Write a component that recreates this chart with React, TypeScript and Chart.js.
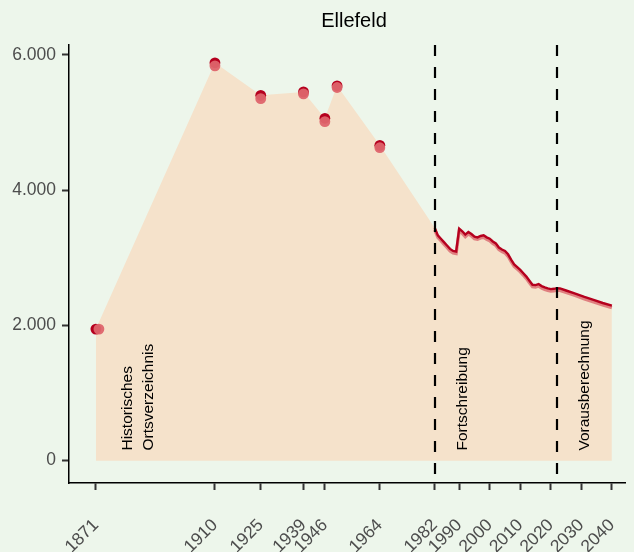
import React, { useEffect, useRef } from "react";
import { Chart, registerables } from "chart.js";

Chart.register(...registerables);

const TITLE = "Ellefeld";

// Historical census points (two overlapping sources)
const HIST_YEARS = [1871, 1910, 1925, 1939, 1946, 1950, 1964];
const HIST_DARK = [1945, 5880, 5400, 5450, 5060, 5540, 4660];
const HIST_LIGHT_YEARS = [1872, 1910, 1925, 1939, 1946, 1950, 1964];
const HIST_LIGHT = [1945, 5835, 5350, 5420, 5010, 5515, 4625];

// Continuous series (Fortschreibung + Vorausberechnung)
const LINE_YEARS = [
  1982, 1983, 1984, 1985, 1986, 1987, 1988, 1989, 1990, 1991, 1992, 1993, 1994,
  1995, 1996, 1997, 1998, 1999, 2000, 2001, 2002, 2003, 2004, 2005, 2006, 2007,
  2008, 2009, 2010, 2011, 2012, 2013, 2014, 2015, 2016, 2017, 2018, 2019, 2020,
  2021, 2022, 2023, 2025, 2028, 2031, 2034, 2037, 2040,
];
const LINE_DARK = [
  3440, 3330, 3280, 3230, 3180, 3130, 3100, 3090, 3430, 3390, 3340, 3380, 3350,
  3310, 3300, 3320, 3330, 3300, 3280, 3240, 3210, 3150, 3120, 3100, 3050, 2970,
  2900, 2860, 2820, 2770, 2720, 2660, 2600, 2595, 2610, 2580, 2560, 2545, 2535,
  2540, 2550, 2545, 2515, 2470, 2420, 2375, 2330, 2290,
];
const LINE_LIGHT = [
  3410, 3300, 3250, 3200, 3150, 3100, 3070, 3060, 3400, 3360, 3310, 3350, 3320,
  3280, 3270, 3290, 3300, 3270, 3250, 3210, 3180, 3120, 3090, 3070, 3020, 2940,
  2870, 2830, 2790, 2740, 2690, 2630, 2570, 2565, 2580, 2550, 2530, 2515, 2505,
  2510, 2520, 2515, 2485, 2440, 2390, 2345, 2300, 2260,
];

const X_TICKS = [1871, 1910, 1925, 1939, 1946, 1964, 1982, 1990, 2000, 2010, 2020, 2030, 2040];
const Y_TICKS = [0, 2000, 4000, 6000];
const PHASE_BREAKS = [1982, 2022];
const PHASE_LABELS = [
  { x: 1881.5, text: "Historisches" },
  { x: 1888.4, text: "Ortsverzeichnis" },
  { x: 1991.2, text: "Fortschreibung" },
  { x: 2031.2, text: "Vorausberechnung" },
];
const LABEL_Y = 150;

const BG = "#edf6eb";
const FILL = "#f5e2cb";
const DARK = "#b5001e";
const LIGHT = "rgba(222,100,108,0.95)";
const LIGHT_LINE = "rgba(220,110,115,0.85)";
const FONT = "'Liberation Sans', Arial, sans-serif";

function fmt(v: number): string {
  const s = String(Math.round(v));
  return s.replace(/\B(?=(\d{3})+(?!\d))/g, ".");
}

const overlayPlugin = {
  id: "overlay",
  beforeDraw(chart: any) {
    const ctx = chart.ctx;
    ctx.save();
    ctx.fillStyle = BG;
    ctx.fillRect(0, 0, chart.width, chart.height);
    ctx.fillStyle = "#000";
    ctx.font = `20px ${FONT}`;
    ctx.textAlign = "center";
    ctx.textBaseline = "middle";
    ctx.fillText(TITLE, 354, 21);
    ctx.restore();
  },
  afterDatasetsDraw(chart: any) {
    const ctx = chart.ctx;
    const xs = chart.scales.x;
    const ys = chart.scales.y;
    const area = chart.chartArea;
    ctx.save();
    ctx.fillStyle = "#000";
    ctx.font = `15.5px ${FONT}`;
    ctx.textAlign = "left";
    ctx.textBaseline = "middle";
    PHASE_LABELS.forEach((l) => {
      const px = xs.getPixelForValue(l.x);
      const py = ys.getPixelForValue(LABEL_Y);
      ctx.save();
      ctx.translate(px, py);
      ctx.rotate(-Math.PI / 2);
      ctx.fillText(l.text, 0, 0);
      ctx.restore();
    });
    ctx.strokeStyle = "#000";
    ctx.lineWidth = 2.2;
    ctx.setLineDash([11, 11]);
    PHASE_BREAKS.forEach((b) => {
      const px = Math.round(xs.getPixelForValue(b));
      ctx.beginPath();
      ctx.moveTo(px, area.top);
      ctx.lineTo(px, area.bottom);
      ctx.stroke();
    });
    ctx.restore();
  },
};

export default function App() {
  const ref = useRef<HTMLCanvasElement>(null);
  useEffect(() => {
    if (!ref.current) return;
    const fillData = [
      ...HIST_YEARS.map((x, i) => ({ x, y: HIST_DARK[i] })),
      ...LINE_YEARS.map((x, i) => ({ x, y: LINE_DARK[i] })),
    ];
    const chart = new Chart(ref.current, {
      type: "line",
      data: {
        datasets: [
          {
            label: "fill",
            data: fillData,
            fill: "origin",
            backgroundColor: FILL,
            borderWidth: 0,
            pointRadius: 0,
            order: 10,
          } as any,
          {
            label: "line light",
            data: LINE_YEARS.map((x, i) => ({ x, y: LINE_LIGHT[i] })),
            borderColor: LIGHT_LINE,
            borderWidth: 3.2,
            pointRadius: 0,
            fill: false,
            order: 6,
          },
          {
            label: "line dark",
            data: LINE_YEARS.map((x, i) => ({ x, y: LINE_DARK[i] })),
            borderColor: DARK,
            borderWidth: 2.4,
            pointRadius: 0,
            fill: false,
            order: 5,
          },
          {
            label: "points dark",
            data: HIST_YEARS.map((x, i) => ({ x, y: HIST_DARK[i] })),
            showLine: false,
            pointRadius: 5.4,
            pointBackgroundColor: DARK,
            pointBorderWidth: 0,
            order: 4,
          },
          {
            label: "points light",
            data: HIST_LIGHT_YEARS.map((x, i) => ({ x, y: HIST_LIGHT[i] })),
            showLine: false,
            pointRadius: 5.4,
            pointBackgroundColor: LIGHT,
            pointBorderWidth: 0,
            order: 3,
          },
        ],
      },
      options: {
        animation: false,
        responsive: true,
        maintainAspectRatio: false,
        layout: { padding: { left: 0, right: 9, top: 45, bottom: 0 } },
        plugins: {
          legend: { display: false },
          tooltip: { enabled: false },
          title: { display: false },
        },
        scales: {
          x: {
            type: "linear",
            min: 1862.2,
            max: 2044.3,
            afterBuildTicks: (s: any) => {
              s.ticks = X_TICKS.map((v) => ({ value: v }));
            },
            afterFit: (s: any) => {
              s.height = 69;
              s.paddingLeft = 0;
              s.paddingRight = 0;
            },
            grid: {
              display: true,
              drawOnChartArea: false,
              drawTicks: true,
              tickLength: 7,
              tickWidth: 2,
              tickColor: "#333",
            },
            border: { display: true, color: "#000", width: 1.5 },
            ticks: {
              autoSkip: false,
              maxRotation: 45,
              minRotation: 45,
              padding: 25,
              color: "#4d4d4d",
              font: { family: FONT, size: 17.5 },
              callback: (v: any) => String(v),
            },
          },
          y: {
            type: "linear",
            min: -330,
            max: 6143,
            afterBuildTicks: (s: any) => {
              s.ticks = Y_TICKS.map((v) => ({ value: v }));
            },
            afterFit: (s: any) => {
              s.width = 69;
              s.paddingTop = 0;
              s.paddingBottom = 0;
            },
            grid: {
              display: true,
              drawOnChartArea: false,
              drawTicks: true,
              tickLength: 7,
              tickWidth: 2,
              tickColor: "#333",
            },
            border: { display: true, color: "#000", width: 1.5 },
            ticks: {
              padding: 6,
              color: "#4d4d4d",
              font: { family: FONT, size: 17.5 },
              callback: (v: any) => fmt(Number(v)),
            },
          },
        },
      } as any,
      plugins: [overlayPlugin],
    });
    return () => chart.destroy();
  }, []);
  return (
    <div style={{ position: "absolute", left: 0, top: 0, width: 634, height: 552, background: BG }}>
      <canvas ref={ref} />
    </div>
  );
}
